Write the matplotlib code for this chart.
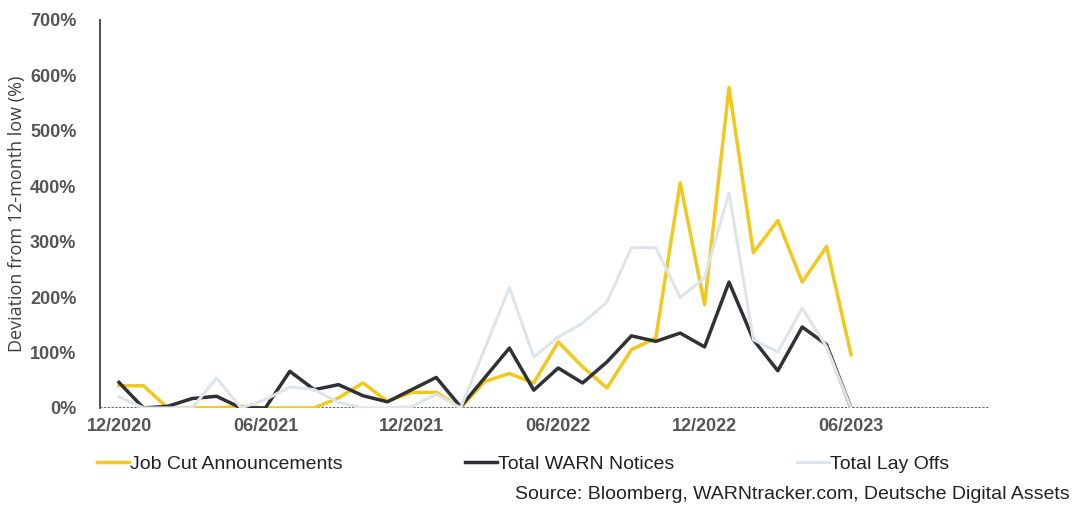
import matplotlib
matplotlib.use("Agg")
from matplotlib import pyplot as plt
from matplotlib.ticker import FuncFormatter

# monthly series, 12/2020 .. 06/2023 (deviation from 12-month low, %)
months = ['12/2020', '01/2021', '02/2021', '03/2021', '04/2021', '05/2021',
          '06/2021', '07/2021', '08/2021', '09/2021', '10/2021', '11/2021',
          '12/2021', '01/2022', '02/2022', '03/2022', '04/2022', '05/2022',
          '06/2022', '07/2022', '08/2022', '09/2022', '10/2022', '11/2022',
          '12/2022', '01/2023', '02/2023', '03/2023', '04/2023', '05/2023',
          '06/2023']

job_cuts = [40, 40, 0, 0, 0, 3, 0, 0, 0, 18, 45, 12, 28, 28, 0, 48,
            62, 45, 119, 74, 36, 105, 126, 406, 186, 578, 280, 338, 227, 291, 96]
warn = [46, 0, 3, 17, 21, 0, 0, 66, 33, 42, 22, 11, 33, 55, 2, 55,
        108, 32, 72, 45, 83, 130, 120, 135, 110, 227, 123, 67, 146, 114, 0]
layoffs = [20, 0, 0, 0, 54, 0, 15, 38, 33, 10, 0, 0, 2, 25, 0, 108,
           217, 92, 128, 153, 191, 289, 289, 199, 235, 388, 123, 101, 180, 110, 0]

tick_labels = ['12/2020', '06/2021', '12/2021', '06/2022', '12/2022', '06/2023']

fig = plt.figure(figsize=(10.75, 5.08), dpi=100)
ax = fig.add_axes([0.093, 0.197, 0.828, 0.764])

x = list(range(len(months)))
ax.axhline(0, color='#3a3a3a', lw=1.1, ls=(0, (1.5, 1)), zorder=1)
l1, = ax.plot(x, job_cuts, color='#F2C81E', lw=2.5, zorder=2)
l2, = ax.plot(x, warn, color='#2E3236', lw=2.5, zorder=3)
l3, = ax.plot(x, layoffs, color='#DDE5EA', lw=2.2, zorder=4)

ax.set_xlim(-0.78, 35.7)
ax.set_ylim(0, 700)
ax.set_yticks(range(0, 701, 100))
ax.yaxis.set_major_formatter(FuncFormatter(lambda v, p: '%d%%' % v))
ax.set_xticks([months.index(m) for m in tick_labels])
ax.set_xticklabels(tick_labels)

for s in ['top', 'right', 'bottom']:
    ax.spines[s].set_visible(False)
ax.spines['left'].set_color('#404040')
ax.spines['left'].set_linewidth(1.3)
ax.tick_params(axis='y', length=0, pad=17, labelsize=13, labelcolor='#555555')
ax.tick_params(axis='x', length=0, pad=7, labelsize=13, labelcolor='#555555')
for t in ax.get_xticklabels() + ax.get_yticklabels():
    t.set_fontweight('bold')
    t.set_family('Liberation Sans')

ax.set_ylabel('Deviation from 12-month low (%)', fontsize=13, color='#404040',
              family='Open Sans', labelpad=3)

leg = fig.legend([l1, l2, l3],
                 ['Job Cut Announcements', 'Total WARN Notices', 'Total Lay Offs'],
                 loc='center left', bbox_to_anchor=(0.074, 0.087), ncol=3,
                 frameon=False, handlelength=1.65, handletextpad=0.05,
                 columnspacing=6.3, prop={'family': 'Liberation Sans', 'size': 14})
for t in leg.get_texts():
    t.set_color('#222222')

fig.text(0.995, 0.027, 'Source: Bloomberg, WARNtracker.com, Deutsche Digital Assets',
         ha='right', va='center', fontsize=14, color='#222222', family='Liberation Sans')

fig.savefig('out.png', dpi=100)
